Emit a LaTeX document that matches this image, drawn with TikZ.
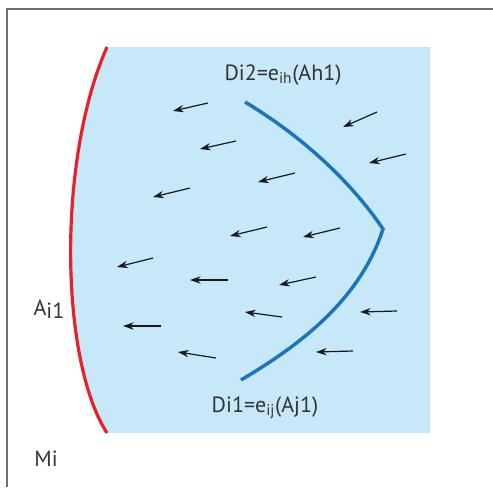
\documentclass[tikz,border=0pt]{standalone}
\usepackage{fontspec}
\setmainfont{PT Sans}
\usepackage{xcolor}
\usepackage{tikz}
\usetikzlibrary{arrows.meta}

\definecolor{fieldblue}{HTML}{C6E8F8}
\definecolor{frontblue}{HTML}{1B75BC}
\definecolor{edgered}{HTML}{E8202A}
\definecolor{framegray}{HTML}{707070}
\definecolor{textgray}{HTML}{333333}

\begin{document}
\begin{tikzpicture}[
    x=0.75pt, y=-0.75pt,
    txt/.style={inner sep=0pt, text=textgray, font=\fontsize{16.5}{19}\selectfont},
    flow/.style={-{Stealth[length=8pt, width=5.5pt]}, line width=0.9pt, black!90},
    front/.style={line width=2.6pt, frontblue},
    edge/.style={line width=2.4pt, edgered}
]
\useasboundingbox (0,0) rectangle (493,487);

% region Mi and its frame
\draw[framegray, line width=1.5pt] (7,487) -- (7,9) -- (493,9);
\fill[fieldblue] (107,47) -- (430,47) -- (430,433) -- (107,433)
    .. controls (60,360) and (57,160) .. (107,47) -- cycle;

% boundary Ai1
\draw[edge] (107,433) .. controls (60,360) and (57,160) .. (107,47);

% front Di
\draw[front] (245,102) .. controls (300,135) and (350,180) .. (383,229)
    .. controls (360,300) and (300,345) .. (241,380);

% flow vectors
\draw[flow] (208,103) -- (173,111);
\draw[flow] (236,141) -- (200,149);
\draw[flow] (190,188) -- (153,197);
\draw[flow] (295,173) -- (258,182);
\draw[flow] (377,112) -- (343,127);
\draw[flow] (406,154) -- (369,163);
\draw[flow] (267,227) -- (230,236);
\draw[flow] (340,228) -- (303,237);
\draw[flow] (153,258) -- (117,267);
\draw[flow] (228,280) -- (190,280);
\draw[flow] (316,277) -- (279,285);
\draw[flow] (282,317) -- (245,312);
\draw[flow] (397,311) -- (360,312);
\draw[flow] (161,326) -- (123,326);
\draw[flow] (216,358) -- (178,352);
\draw[flow] (353,351) -- (316,352);

% labels
\node[txt] (di2) at (283,75) {Di2=e\textsubscript{ih}(Ah1)};
\node[txt] (di1) at (265,408) {Di1=e\textsubscript{ij}(Aj1)};
\node[txt] (ai1) at (49,309) {A\raisebox{-2pt}{i1}};
\node[txt] (mi) at (46,459) {Mi};
\end{tikzpicture}
\end{document}
